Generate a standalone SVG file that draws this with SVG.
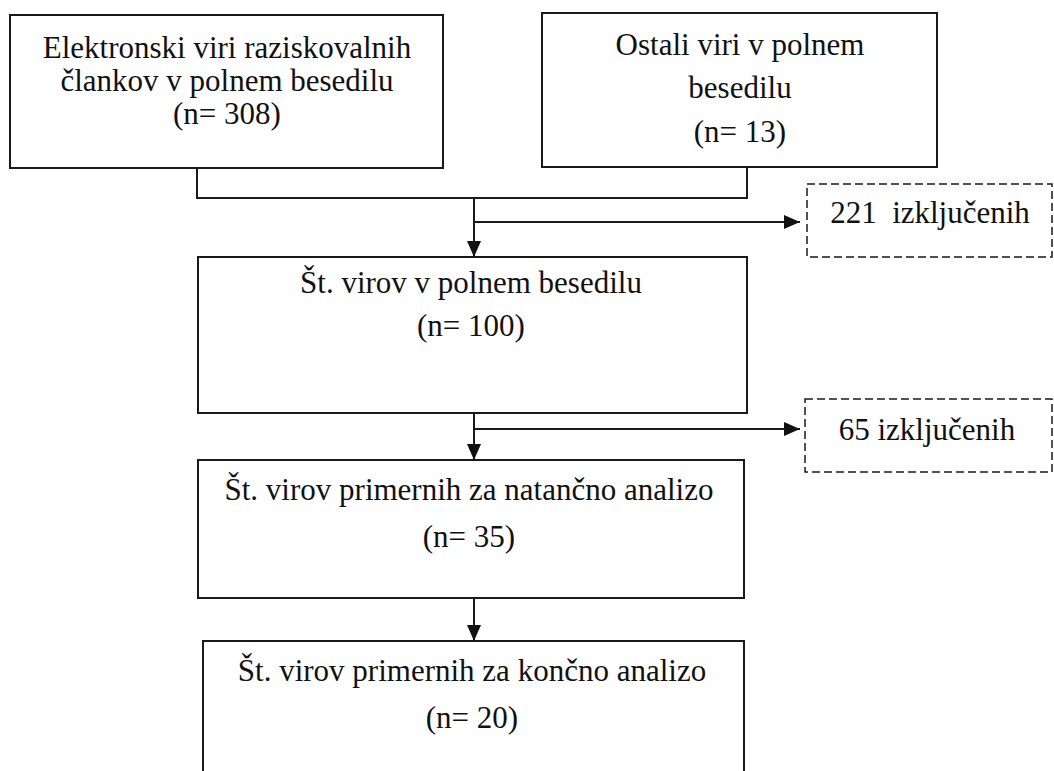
<svg xmlns="http://www.w3.org/2000/svg" width="1054" height="771" viewBox="0 0 1054 771">
<defs>
<marker id="arr" markerUnits="userSpaceOnUse" markerWidth="16" markerHeight="14" refX="16" refY="7" orient="auto">
<path d="M0,0 L16,7 L0,14 Z" fill="#111"/>
</marker>
<style>
.box{fill:#fff;stroke:#1a1a1a;stroke-width:2}
.dbox{fill:#fff;stroke:#1a1a1a;stroke-width:1.5;stroke-dasharray:8 4}
text{font-family:'Liberation Serif','DejaVu Serif',serif;font-size:31px;fill:#111;text-anchor:middle}
.c{fill:none;stroke:#1a1a1a;stroke-width:2}
</style>
</defs>
<rect width="1054" height="771" fill="#fff"/>
<g id="connectors">
<path class="c" d="M197,168 V198 H747 V167"/>
<path class="c" d="M474,198 V257" marker-end="url(#arr)"/>
<path class="c" d="M474,222 H800" marker-end="url(#arr)"/>
<path class="c" d="M474,413 V460" marker-end="url(#arr)"/>
<path class="c" d="M474,429 H800" marker-end="url(#arr)"/>
<path class="c" d="M474,598 V641" marker-end="url(#arr)"/>
</g>
<g id="n1">
<rect class="box" x="10" y="15" width="433" height="153"/>
<text x="227" y="58" font-family="Liberation Serif">Elektronski viri raziskovalnih</text>
<text x="227" y="91" font-family="Liberation Serif">člankov v polnem besedilu</text>
<text x="227" y="124" font-family="Liberation Serif">(n= 308)</text>
</g>
<g id="n2">
<rect class="box" x="542" y="13" width="395" height="154"/>
<text x="740" y="55" font-family="Liberation Serif">Ostali viri v polnem</text>
<text x="740" y="98" font-family="Liberation Serif">besedilu</text>
<text x="740" y="142" font-family="Liberation Serif">(n= 13)</text>
</g>
<g id="x1">
<rect class="dbox" x="807" y="184" width="245" height="73"/>
<text x="930" y="223" font-family="Liberation Serif" xml:space="preserve">221  izključenih</text>
</g>
<g id="n3">
<rect class="box" x="198" y="257" width="549" height="156"/>
<text x="471" y="293" font-family="Liberation Serif">Št. virov v polnem besedilu</text>
<text x="471" y="336" font-family="Liberation Serif">(n= 100)</text>
</g>
<g id="x2">
<rect class="dbox" x="805" y="399" width="247" height="73"/>
<text x="927" y="440" font-family="Liberation Serif">65 izključenih</text>
</g>
<g id="n4">
<rect class="box" x="198" y="460" width="546" height="138"/>
<text x="469" y="500" font-family="Liberation Serif">Št. virov primernih za natančno analizo</text>
<text x="469" y="547" font-family="Liberation Serif">(n= 35)</text>
</g>
<g id="n5">
<rect class="box" x="203" y="641" width="541" height="150"/>
<text x="472" y="681" font-family="Liberation Serif">Št. virov primernih za končno analizo</text>
<text x="472" y="728" font-family="Liberation Serif">(n= 20)</text>
</g>
</svg>
